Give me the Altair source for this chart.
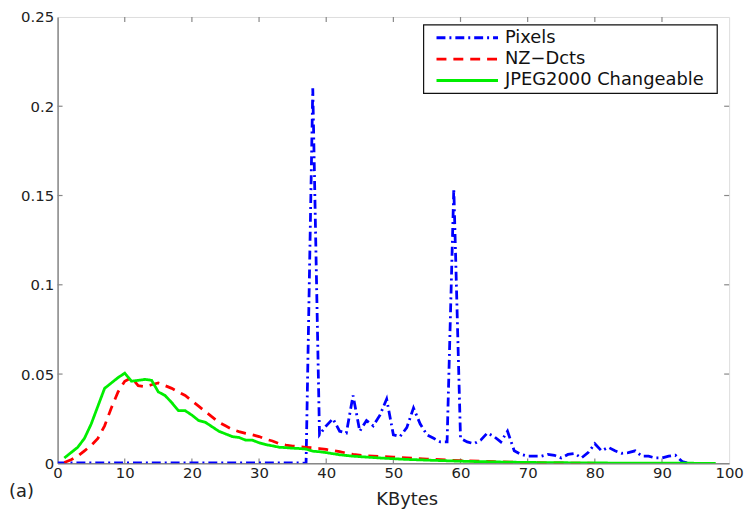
import altair as alt
import pandas as pd

# ---- data ----
pixels_x = [0, 5, 10, 15, 20, 25, 30, 35, 36, 37, 38, 39, 40, 41, 42, 43, 44, 45, 46, 47, 48, 49,
            50, 51, 52, 53, 54, 55, 56, 57, 58, 59, 60, 61, 62, 63, 64, 65, 66, 67, 68, 69,
            70, 71, 72, 73, 74, 75, 76, 77, 78, 79, 80, 81, 82, 83, 84, 85, 86, 87, 88, 89,
            90, 91, 92, 93, 94]
pixels_y = [0.0002, 0.0002, 0.0002, 0.0002, 0.0002, 0.0002, 0.0002, 0.0002, 0.0002, 0.0, 0.21, 0.016,
            0.021, 0.025, 0.018, 0.017, 0.038, 0.018, 0.024, 0.021, 0.027, 0.036,
            0.016, 0.015, 0.020, 0.031, 0.022, 0.016, 0.014, 0.012, 0.012, 0.154, 0.014, 0.012,
            0.011, 0.013, 0.017, 0.015, 0.012, 0.018, 0.007, 0.005,
            0.004, 0.004, 0.004, 0.005, 0.0045, 0.003, 0.005, 0.0055, 0.003, 0.006, 0.011, 0.007,
            0.009, 0.007, 0.0056, 0.006, 0.007, 0.004, 0.004, 0.003,
            0.003, 0.004, 0.0046, 0.001, 0.0]

nzdct_x = [1, 2, 3, 4, 5, 6, 7, 8, 9, 10, 11, 12, 13, 14, 15, 16, 17, 18, 19, 20, 21, 22, 23, 24,
           25, 26, 27, 28, 29, 30, 31, 32, 33, 34, 35, 36, 37, 38, 39, 40, 42, 44, 46, 48, 50,
           52, 55, 60, 65, 70, 75, 80]
nzdct_y = [0.0005, 0.002, 0.004, 0.007, 0.010, 0.014, 0.021, 0.031, 0.040, 0.046, 0.048, 0.0435,
           0.043, 0.044, 0.045, 0.0435, 0.042, 0.040, 0.038, 0.035, 0.032, 0.029, 0.026, 0.023,
           0.021, 0.019, 0.0178, 0.0168, 0.016, 0.015, 0.0135, 0.0125, 0.011, 0.0102, 0.0097,
           0.0093, 0.009, 0.0087, 0.0083, 0.0078, 0.0065, 0.005, 0.0042, 0.0038, 0.0035,
           0.003, 0.0024, 0.0015, 0.0009, 0.0004, 0.0002, 0.0]

jpeg_x = [1, 2, 3, 4, 5, 6, 7, 8, 9, 10, 11, 12, 13, 14, 15, 16, 17, 18, 19, 20, 21, 22, 23, 24,
          25, 26, 27, 28, 29, 30, 31, 32, 33, 34, 35, 36, 37, 38, 39, 40, 42, 44, 46, 48, 50,
          52, 55, 60, 65, 70, 80, 90, 98]
jpeg_y = [0.003, 0.006, 0.009, 0.014, 0.022, 0.032, 0.042, 0.045, 0.048, 0.0505, 0.046, 0.0465,
          0.047, 0.0465, 0.040, 0.038, 0.034, 0.0295, 0.0295, 0.027, 0.024, 0.023, 0.0205, 0.018,
          0.0165, 0.015, 0.0145, 0.013, 0.013, 0.0115, 0.0105, 0.0098, 0.009, 0.0088, 0.0085,
          0.0083, 0.008, 0.0068, 0.0065, 0.006, 0.0048, 0.004, 0.0035, 0.003, 0.0026,
          0.0022, 0.0018, 0.0012, 0.0008, 0.0005, 0.0002, 0.0001, 0.0]

series_names = ["Pixels", "NZ-Dcts", "JPEG2000 Changeable"]
legend_labels = ["Pixels", "NZ\u2212Dcts", "JPEG2000 Changeable"]
series_colors = ["#0000ff", "#ff0000", "#00ee00"]
series_dashes = [[9, 4, 2, 4], [10, 7], [1, 0]]

x_ticks = [0, 10, 20, 30, 40, 50, 60, 70, 80, 90, 100]
y_ticks = [0, 0.05, 0.1, 0.15, 0.2, 0.25]

W, H = 677, 450
FONT = "DejaVu Sans"

rows = []
for name, xs, ys in zip(series_names, [pixels_x, nzdct_x, jpeg_x], [pixels_y, nzdct_y, jpeg_y]):
    for i, (xv, yv) in enumerate(zip(xs, ys)):
        rows.append({"series": name, "kb": xv, "p": yv, "i": i})
df = pd.DataFrame(rows)

xscale = alt.Scale(domain=[0, 100], nice=False)
yscale = alt.Scale(domain=[0, 0.25], nice=False)

lines = alt.Chart(df).mark_line(strokeWidth=2.8, clip=True).encode(
    x=alt.X("kb:Q", scale=xscale,
            axis=alt.Axis(values=x_ticks, title="KBytes", ticks=False, grid=False,
                          labelFont=FONT, labelFontSize=15, labelColor="#222",
                          labelPadding=2, domainColor="#888", domainWidth=1.5,
                          titleFont=FONT, titleFontSize=18, titleFontWeight="normal",
                          titleColor="#222", titleX=352, titleY=28, titleBaseline="top",
                          labelFlush=False, labelOverlap=False)),
    y=alt.Y("p:Q", scale=yscale,
            axis=alt.Axis(values=y_ticks, title=None, ticks=False, grid=False,
                          labelFont=FONT, labelFontSize=15, labelColor="#222",
                          labelPadding=4, domainColor="#888", domainWidth=1.5,
                          labelFlush=False, labelOverlap=False,
                          labelExpr="datum.value == 0 ? '0' : format(datum.value, '~g')")),
    color=alt.Color("series:N",
                    scale=alt.Scale(domain=series_names, range=series_colors),
                    legend=None),
    strokeDash=alt.StrokeDash("series:N",
                              scale=alt.Scale(domain=series_names, range=series_dashes),
                              legend=None),
    order="i:Q",
)

# inward ticks on all four sides
xt = pd.DataFrame({"t": x_ticks[1:-1]})
yt = pd.DataFrame({"t": y_ticks[1:-1]})
tick_style = dict(color="#888", strokeWidth=1.2)
bottom_ticks = alt.Chart(xt).mark_rule(**tick_style).encode(
    x=alt.X("t:Q", scale=xscale), y=alt.value(H), y2=alt.value(H - 5))
top_ticks = alt.Chart(xt).mark_rule(**tick_style).encode(
    x=alt.X("t:Q", scale=xscale), y=alt.value(0), y2=alt.value(5))
left_ticks = alt.Chart(yt).mark_rule(**tick_style).encode(
    y=alt.Y("t:Q", scale=yscale), x=alt.value(0), x2=alt.value(5))
right_ticks = alt.Chart(yt).mark_rule(**tick_style).encode(
    y=alt.Y("t:Q", scale=yscale), x=alt.value(W), x2=alt.value(W - 5))

# hand-built legend (MATLAB style box)
one = pd.DataFrame({"k": [0]})
legend_box = alt.Chart(one).mark_rect(fill="white", stroke="#111", strokeWidth=1.2).encode(
    x=alt.value(369), x2=alt.value(665), y=alt.value(8), y2=alt.value(77))
legend_layers = [legend_box]
row_y = [21, 42.5, 64]
for lab, col, dash, ry in zip(legend_labels, series_colors, series_dashes, row_y):
    legend_layers.append(
        alt.Chart(one).mark_rule(color=col, strokeWidth=3, strokeDash=dash).encode(
            x=alt.value(382), x2=alt.value(444), y=alt.value(ry)))
    legend_layers.append(
        alt.Chart(pd.DataFrame({"s": [lab]})).mark_text(
            font=FONT, fontSize=18, color="#111", align="left", baseline="middle"
        ).encode(text="s:N", x=alt.value(451), y=alt.value(ry)))

panel_label = alt.Chart(pd.DataFrame({"s": ["(a)"]})).mark_text(
    font=FONT, fontSize=18, color="#222", align="left", baseline="middle"
).encode(text="s:N", x=alt.value(-49), y=alt.value(479))

chart = alt.layer(
    bottom_ticks, top_ticks, left_ticks, right_ticks, lines, *legend_layers, panel_label
).properties(
    width=W, height=H,
    autosize=alt.AutoSizeParams(type="none"),
    padding={"left": 50, "top": 7, "right": 16, "bottom": 45},
).configure_view(
    stroke="#888", strokeWidth=1.5
).configure(background="white")

chart.save("out.html", embed_options={"renderer": "svg", "actions": False})
